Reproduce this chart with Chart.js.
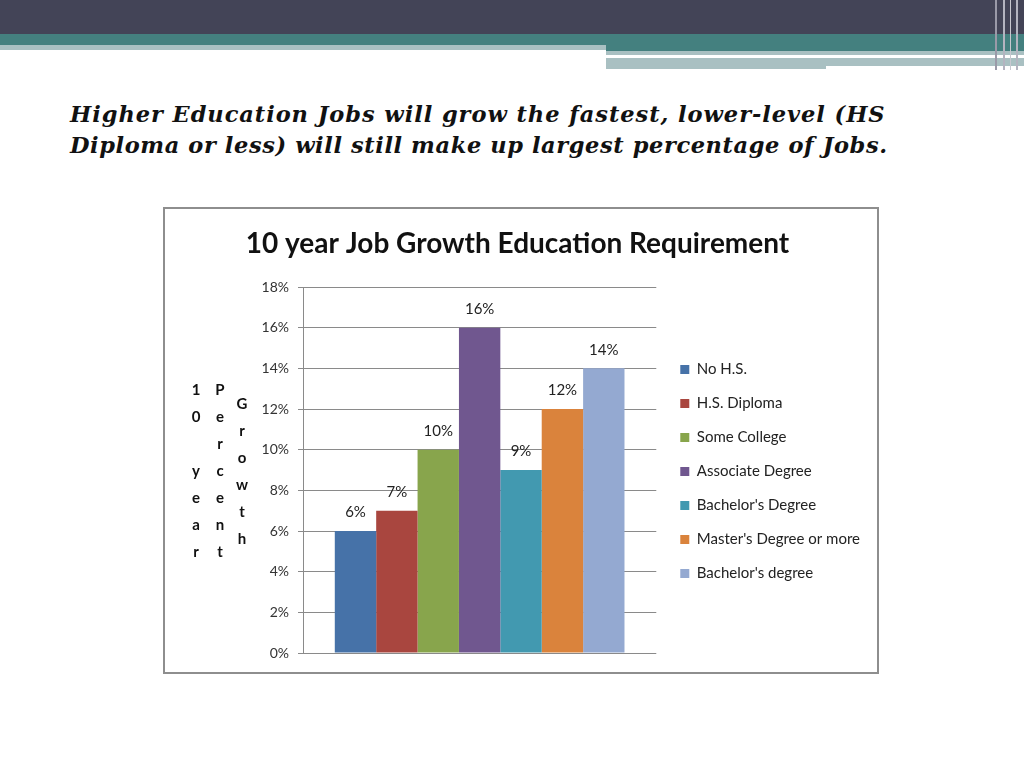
<!DOCTYPE html>
<html>
<head>
<meta charset="utf-8">
<script src="https://cdn.jsdelivr.net/npm/chart.js@4.4.0/dist/chart.umd.min.js"></script>
<style>
  body { margin: 0; width: 1024px; height: 768px; background: #fff; position: relative; overflow: hidden; }
  .band { position: absolute; }
  .head { position: absolute; left: 70px; font-family: "DejaVu Serif", serif; font-weight: bold; font-style: italic;
          font-size: 22.5px; letter-spacing: 0.95px; color: #111; white-space: nowrap; }
  #box { position: absolute; left: 163px; top: 207px; width: 712px; height: 463px; border: 2px solid #8e8e8e; }
</style>
</head>
<body>
<div class="band" style="left:0;top:0;width:1024px;height:34px;background:#434457"></div>
<div class="band" style="left:0;top:34px;width:1024px;height:11px;background:#44807f"></div>
<div class="band" style="left:0;top:45px;width:606px;height:5px;background:#a9c0c2"></div>
<div class="band" style="left:606px;top:45px;width:418px;height:6px;background:#44807f"></div>
<div class="band" style="left:606px;top:51px;width:418px;height:4px;background:#a9c0c2"></div>
<div class="band" style="left:606px;top:58px;width:418px;height:8px;background:#a9c0c2"></div>
<div class="band" style="left:606px;top:66px;width:220px;height:3px;background:#a9c0c2"></div>
<div class="band" style="left:995px;top:0;width:2px;height:70px;background:#9a9aa8"></div>
<div class="band" style="left:1003px;top:0;width:2px;height:70px;background:#b4b4c0"></div>
<div class="band" style="left:1010px;top:0;width:1px;height:70px;background:#c8c8d0"></div>
<div class="band" style="left:1016px;top:0;width:2px;height:70px;background:#b4b4c0"></div>

<div class="head" style="top:101px">Higher Education Jobs will grow the fastest, lower-level (HS</div>
<div class="head" style="top:132px; letter-spacing: 0.6px">Diploma or less) will still make up largest percentage of Jobs.</div>

<div id="box"><canvas id="canvas"></canvas></div>

<script>
// data
var categories = ["No H.S.", "H.S. Diploma", "Some College", "Associate Degree",
                  "Bachelor's Degree", "Master's Degree or more", "Bachelor's degree"];
var growth = [6, 7, 10, 16, 9, 12, 14];
var yTicks = [0, 2, 4, 6, 8, 10, 12, 14, 16, 18];

var colors = ["#4672a8", "#a9463f", "#88a54c", "#70578f", "#4299b0", "#da833c", "#94a9d1"];

var datasets = categories.map(function (c, i) {
    return { label: c, data: [growth[i]], backgroundColor: colors[i], borderWidth: 0 };
});

// value labels above the bars
var barLabels = {
    id: "barLabels",
    afterDatasetsDraw: function (chart) {
        var ctx = chart.ctx;
        ctx.save();
        ctx.font = "15px Lato";
        ctx.fillStyle = "#222";
        ctx.textAlign = "center";
        ctx.textBaseline = "bottom";
        chart.data.datasets.forEach(function (ds, i) {
            var bar = chart.getDatasetMeta(i).data[0];
            ctx.fillText(ds.data[0] + "%", bar.x, bar.y - 11);
        });
        ctx.restore();
    }
};

// stacked vertical axis title (three columns of letters)
var axisTitle = {
    id: "axisTitle",
    afterDraw: function (chart) {
        var ctx = chart.ctx;
        var cols = [["1", "0", "", "y", "e", "a", "r"],
                    ["P", "e", "r", "c", "e", "n", "t"],
                    ["G", "r", "o", "w", "t", "h"]];
        var xs = [31, 55, 77], ys = [181, 181, 195];
        ctx.save();
        ctx.font = "bold 15px Lato";
        ctx.fillStyle = "#111";
        ctx.textAlign = "center";
        ctx.textBaseline = "middle";
        cols.forEach(function (col, c) {
            col.forEach(function (ch, r) {
                ctx.fillText(ch, xs[c], ys[c] + r * 27);
            });
        });
        ctx.restore();
    }
};

new Chart(document.getElementById("canvas"), {
    type: "bar",
    data: { labels: [""], datasets: datasets },
    plugins: [barLabels, axisTitle],
    options: {
        responsive: true,
        maintainAspectRatio: false,
        animation: false,
        layout: { padding: { left: 0, right: 7, top: 0, bottom: 19 } },
        datasets: { bar: { barPercentage: 1, categoryPercentage: 0.82 } },
        plugins: {
            title: {
                display: true,
                text: "10 year Job Growth Education Requirement",
                color: "#111",
                font: { family: "Lato", size: 28, weight: "bold" },
                padding: { top: 18, bottom: 26.4 }
            },
            legend: {
                position: "right",
                align: "start",
                maxWidth: 320,
                title: { display: true, text: " ", font: { size: 12 }, padding: { top: 119.6, bottom: 0 } },
                labels: {
                    color: "#222",
                    font: { family: "Lato", size: 15 },
                    boxWidth: 9,
                    boxHeight: 9,
                    padding: 19
                }
            },
            tooltip: { enabled: false }
        },
        scales: {
            x: { display: false },
            y: {
                min: 0,
                max: 18,
                afterBuildTicks: function (s) { s.ticks = yTicks.map(function (v) { return { value: v }; }); },
                afterFit: function (s) { s.width = 138; },
                ticks: {
                    color: "#333",
                    font: { family: "Lato", size: 14 },
                    padding: 9,
                    callback: function (v) { return v + "%"; }
                },
                grid: { color: "#8a8a8a", lineWidth: 1, tickLength: 5 },
                border: { color: "#8a8a8a" }
            },
            gap: {
                position: "right",
                display: true,
                grid: { display: false },
                border: { display: false },
                ticks: { display: false },
                afterFit: function (s) { s.width = 5; }
            }
        }
    }
});
</script>
</body>
</html>
